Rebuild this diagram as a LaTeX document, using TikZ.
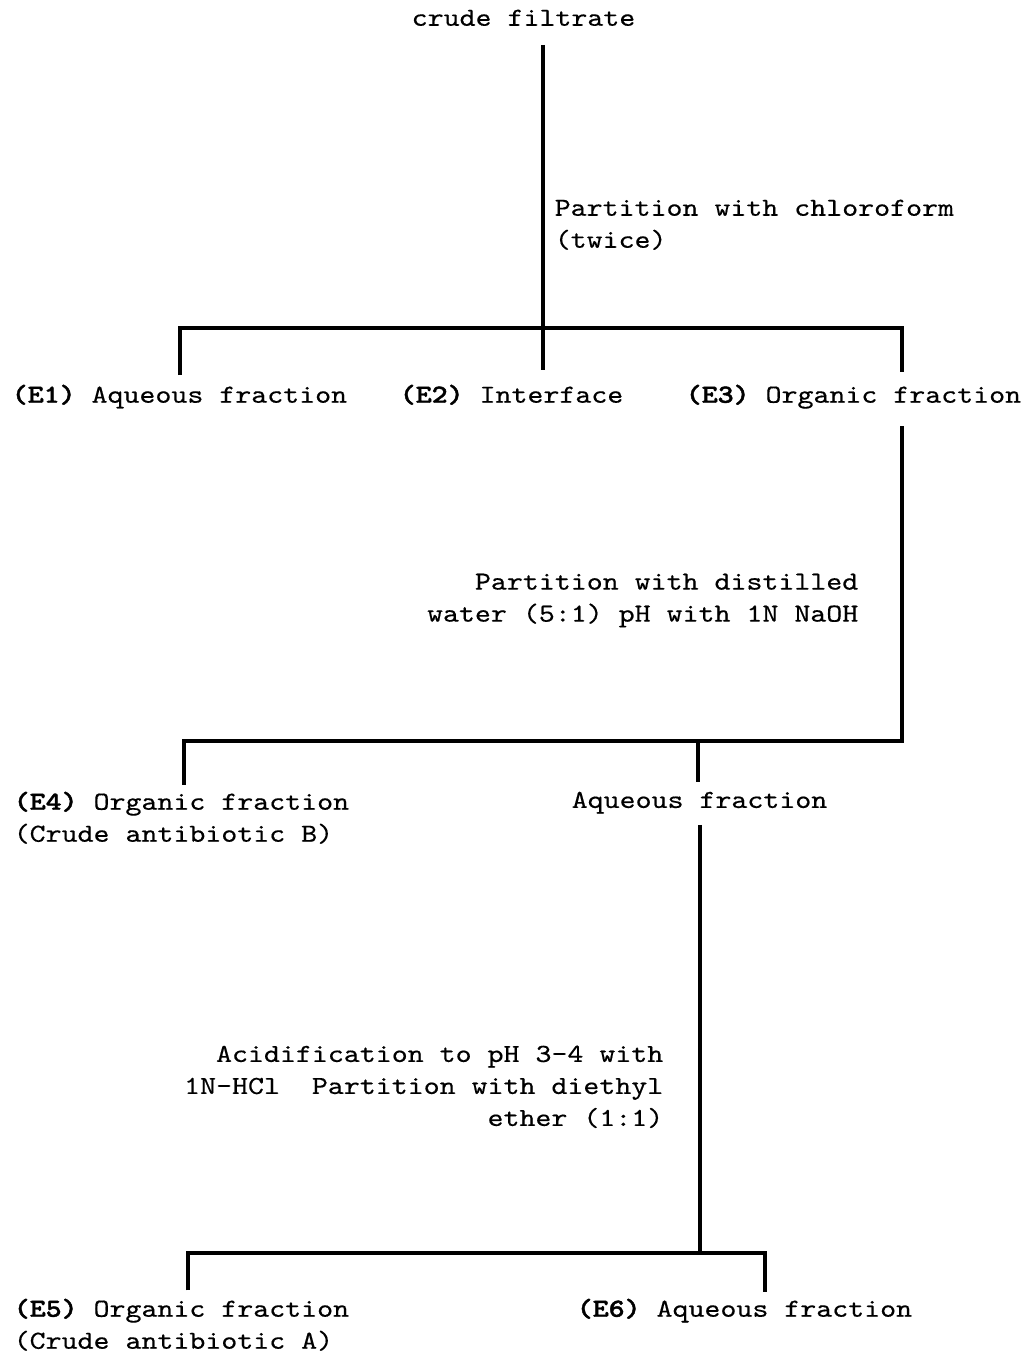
\documentclass[tikz,border=0pt]{standalone}
\usepackage{fontspec}
\newfontfamily\courfont{lmmono10-regular.otf}[BoldFont=lmmonolt10-bold.otf,FakeStretch=1.17,
  UprightFeatures={FakeBold=0.4},BoldFeatures={FakeBold=1.6}]
\usetikzlibrary{positioning}

\begin{document}
\begin{tikzpicture}[x=0.75pt,y=-0.75pt,line width=2.6pt,
                    every node/.style={font=\courfont\fontsize{19.5}{24}\selectfont,inner sep=0pt},
                    frac/.style={anchor=north west,align=left},
                    note/.style={anchor=north east,align=right}]

                \useasboundingbox (0,0) rectangle (1029,1355);

                % first partition
                \node (filtrate) [frac] at (410,8) {crude filtrate};
                \node (e1) [frac] at (10,383) {\textbf{(E1)} Aqueous fraction};
                \node (e2) [frac] at (398,383) {\textbf{(E2)} Interface};
                \node (e3) [frac] at (684,383) {\textbf{(E3)} Organic fraction};
                \node (chloro) [frac] at (553,198) {Partition with chloroform\\(twice)};

                \coordinate (a1) at (180,328);
                \coordinate (a2) at (543,328);
                \coordinate (a3) at (902,328);

                \draw[shorten <=13pt,shorten >=10pt] (filtrate.south -| a2) -- (e2.north -| a2);
                \draw[shorten <=6pt,shorten >=8pt] (e1.north -| a1) -- (a1) -- (a3) -- (e3.north -| a3);

                % second partition
                \node (e4) [frac] at (12,790) {\textbf{(E4)} Organic fraction\\(Crude antibiotic B)};
                \node (aq) [frac] at (570,790) {Aqueous fraction};
                \node (water) [note] at (860,572) {Partition with distilled\\water (5:1) pH with 1N NaOH};

                \coordinate (b1) at (184,741);
                \coordinate (b2) at (698,741);
                \coordinate (b3) at (902,741);

                \draw[shorten <=12pt,shorten >=4pt] (e3.south -| b3) -- (b3) -- (b1) -- (e4.north -| b1);
                \draw[shorten >=6pt] (b2) -- (aq.north -| b2);

                % third partition
                \node (e5) [frac] at (12,1297) {\textbf{(E5)} Organic fraction\\(Crude antibiotic A)};
                \node (e6) [frac] at (575,1297) {\textbf{(E6)} Aqueous fraction};
                \node (acid) [note] at (665,1044) {Acidification to pH 3-4 with\\1N-HCl\ \ Partition with diethyl\\ether (1:1)};

                \coordinate (c1) at (188,1253);
                \coordinate (c2) at (700,1253);
                \coordinate (c3) at (765,1253);

                \draw[shorten <=7pt] (aq.south -| c2) -- (c2);
                \draw[shorten <=5pt,shorten >=4pt] (e5.north -| c1) -- (c1) -- (c3) -- (e6.north -| c3);

            \end{tikzpicture}
\end{document}
